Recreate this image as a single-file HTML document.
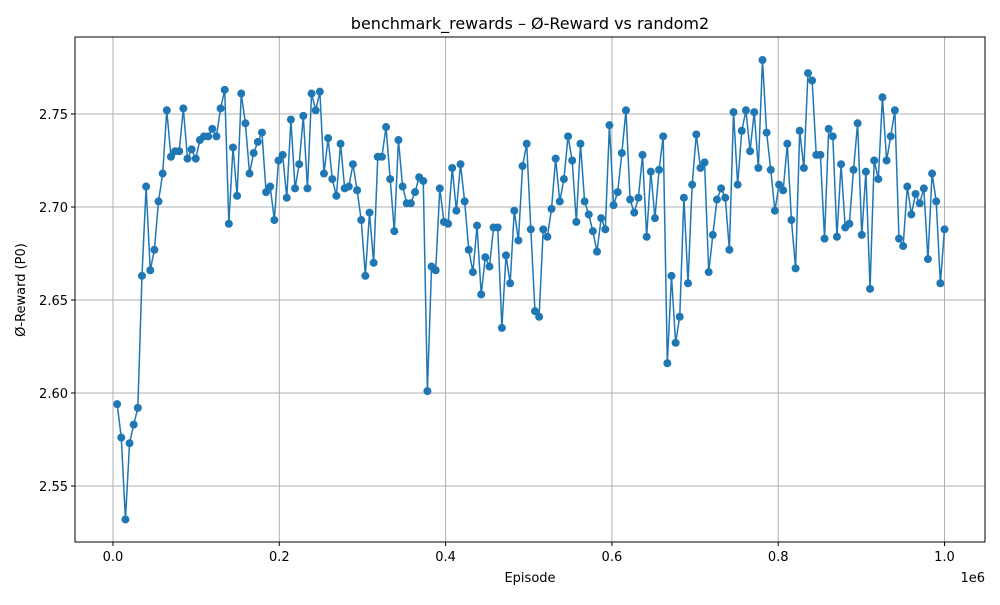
<!DOCTYPE html>
<html><head><meta charset="utf-8"><style>
body{margin:0;background:#fff;font-family:"Liberation Sans","DejaVu Sans",sans-serif}
svg text{font-family:"DejaVu Sans","Liberation Sans",sans-serif;fill:#000}
</style></head><body>
<svg id="chart" width="1000" height="600" xmlns="http://www.w3.org/2000/svg">
<rect width="1000" height="600" fill="#fff"/>
<text x="530" y="29" font-size="16" text-anchor="middle">benchmark_rewards – Ø-Reward vs random2</text>
<g id="grid"></g>
<g id="ticks"></g>
<g id="series"></g>
<rect x="75" y="37" width="910" height="505" fill="none" stroke="#000" stroke-width="1"/>
<text x="530" y="582" font-size="13" text-anchor="middle">Episode</text>
<text transform="translate(25,290) rotate(-90)" font-size="13" text-anchor="middle">Ø-Reward (P0)</text>
<text x="985" y="582" font-size="13" text-anchor="end">1e6</text>
</svg>
<script>
const rewards=[2.594,2.576,2.532,2.573,2.583,2.592,2.663,2.711,2.666,2.677,2.703,2.718,2.752,2.727,2.730,2.730,2.753,2.726,2.731,2.726,2.736,2.738,2.738,2.742,2.738,2.753,2.763,2.691,2.732,2.706,2.761,2.745,2.718,2.729,2.735,2.740,2.708,2.711,2.693,2.725,2.728,2.705,2.747,2.710,2.723,2.749,2.710,2.761,2.752,2.762,2.718,2.737,2.715,2.706,2.734,2.710,2.711,2.723,2.709,2.693,2.663,2.697,2.670,2.727,2.727,2.743,2.715,2.687,2.736,2.711,2.702,2.702,2.708,2.716,2.714,2.601,2.668,2.666,2.710,2.692,2.691,2.721,2.698,2.723,2.703,2.677,2.665,2.690,2.653,2.673,2.668,2.689,2.689,2.635,2.674,2.659,2.698,2.682,2.722,2.734,2.688,2.644,2.641,2.688,2.684,2.699,2.726,2.703,2.715,2.738,2.725,2.692,2.734,2.703,2.696,2.687,2.676,2.694,2.688,2.744,2.701,2.708,2.729,2.752,2.704,2.697,2.705,2.728,2.684,2.719,2.694,2.720,2.738,2.616,2.663,2.627,2.641,2.705,2.659,2.712,2.739,2.721,2.724,2.665,2.685,2.704,2.710,2.705,2.677,2.751,2.712,2.741,2.752,2.730,2.751,2.721,2.779,2.740,2.720,2.698,2.712,2.709,2.734,2.693,2.667,2.741,2.721,2.772,2.768,2.728,2.728,2.683,2.742,2.738,2.684,2.723,2.689,2.691,2.720,2.745,2.685,2.719,2.656,2.725,2.715,2.759,2.725,2.738,2.752,2.683,2.679,2.711,2.696,2.707,2.702,2.710,2.672,2.718,2.703,2.659,2.688];
const episodes=rewards.map((_,i)=>5000+i*(995000/(rewards.length-1)));
const xTicks=[0,200000,400000,600000,800000,1000000];
const xTickLabels=["0.0","0.2","0.4","0.6","0.8","1.0"];
const yTicks=[2.55,2.60,2.65,2.70,2.75];
const yTickLabels=["2.55","2.60","2.65","2.70","2.75"];
const NS="http://www.w3.org/2000/svg";
const X=v=>113+v*(831.5/1e6);
const Y=v=>207-(v-2.70)*1860;
function mk(tag,attrs,parent){const e=document.createElementNS(NS,tag);for(const k in attrs)e.setAttribute(k,attrs[k]);document.getElementById(parent).appendChild(e);return e;}
xTicks.forEach((t,i)=>{
  const g=mk('line',{x1:X(t),x2:X(t),y1:37,y2:542,stroke:'#b0b0b0','stroke-width':1},'grid');
  
  
  mk('line',{x1:X(t),x2:X(t),y1:542,y2:546,stroke:'#000'},'ticks');
  const tx=mk('text',{x:X(t),y:561,'font-size':13,'text-anchor':'middle'},'ticks');
  tx.textContent=xTickLabels[i];
  
  
});
yTicks.forEach((t,i)=>{
  const g=mk('line',{x1:75,x2:985,y1:Y(t),y2:Y(t),stroke:'#b0b0b0','stroke-width':1},'grid');
  
  
  mk('line',{x1:71,x2:75,y1:Y(t),y2:Y(t),stroke:'#000'},'ticks');
  const tx=mk('text',{x:68,y:Y(t)+5,'font-size':13,'text-anchor':'end'},'ticks');
  tx.textContent=yTickLabels[i];
  
  
});
const pts=rewards.map((r,i)=>X(episodes[i]).toFixed(2)+','+Y(r).toFixed(2)).join(' ');
const line=mk('polyline',{points:pts,fill:'none',stroke:'#1f77b4','stroke-width':1.5},'series');


rewards.forEach((r,i)=>{
  const c=mk('circle',{cx:X(episodes[i]),cy:Y(r),r:4,fill:'#1f77b4'},'series');
  
  
});
</script>
</body></html>
